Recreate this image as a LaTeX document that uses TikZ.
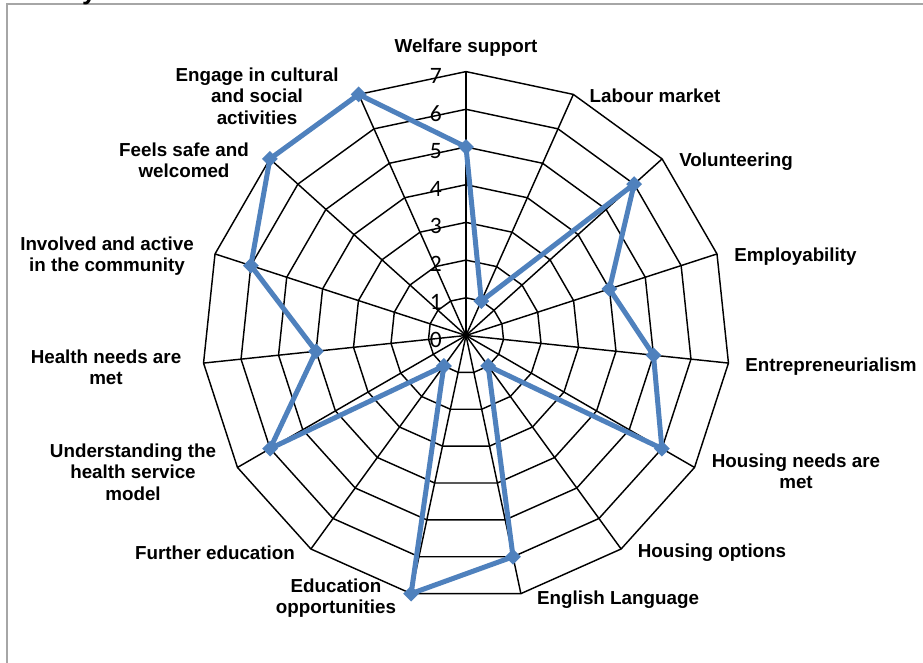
\documentclass[tikz,border=0pt]{standalone}
\usepackage{fontspec}
\setmainfont{Liberation Sans}
\newfontfamily\digitfont{Carlito}
\usetikzlibrary{shapes.geometric}
\definecolor{serblue}{RGB}{79,129,189}
\definecolor{framegray}{RGB}{166,166,166}
\begin{document}
\begin{tikzpicture}[x=1pt,y=1pt,
  web/.style={draw=black, line width=1.45pt, line join=miter},
  dataline/.style={draw=serblue, line width=5pt, line join=round},
  marker/.style={diamond, fill=serblue, minimum size=16pt, inner sep=0pt},
  lbl/.style={font=\fontsize{18.8}{21.3}\selectfont\bfseries, align=center, inner sep=0pt, text=black},
  digit/.style={font=\digitfont\fontsize{23.5}{23.5}\selectfont, anchor=east, inner sep=0pt, text=black}]
\useasboundingbox (0,0) rectangle (923,663);
\fill[white] (0,0) rectangle (923,663);
% frame
\draw[framegray, line width=2pt] (7,0) -- (7,658.5) -- (923,658.5);
% cut-off title fragment
\begin{scope}
\clip (0,0) rectangle (923,663);
\node[font=\fontsize{26}{26}\selectfont\bfseries, anchor=base west, inner sep=0pt] (ttl) at (82,663.5) {y};
\end{scope}
\begin{scope}[shift={(466,327.5)}]
\def\u{37.7}
\coordinate (O) at (0,0);
% spokes
\foreach \i in {0,...,14}{
  \coordinate (s\i) at ({90-24*\i}:{7*\u});
  \draw[web] (O) -- (s\i);
}
% rings
\foreach \k in {1,...,7}{
  \draw[web] (90:{\k*\u}) \foreach \i in {1,...,14}{ -- ({90-24*\i}:{\k*\u}) } -- cycle;
}
% axis numbers
\foreach \k in {0,...,7}{
  \node[digit] (n\k) at (-24,{\k*\u-4}) {\k};
}
% data
\foreach \v [count=\j from 0] in {5,1,6,4,5,6,1,6,7,1,6,4,6,7,7}{
  \coordinate (d\j) at ({90-24*\j}:{\v*\u});
}
\draw[dataline] (d0) -- (d1) -- (d2) -- (d3) -- (d4) -- (d5) -- (d6) -- (d7) -- (d8) -- (d9) -- (d10) -- (d11) -- (d12) -- (d13) -- (d14) -- cycle;
\foreach \j in {0,...,14}{
  \node[marker] (m\j) at (d\j) {};
}
% category labels
\node[lbl] (L0) at (0,287.5) {Welfare support};
\node[lbl] (L1) at (189,239.5) {Labour market};
\node[lbl] (L2) at (270,173.5) {Volunteering};
\node[lbl] (L3) at (329.5,78.5) {Employability};
\node[lbl] (L4) at (365,-31.5) {Entrepreneurialism};
\node[lbl] (L5) at (330,-135.5) {Housing needs are\\met};
\node[lbl] (L6) at (246,-217.5) {Housing options};
\node[lbl] (L7) at (152,-264.5) {English Language};
\node[lbl] (L8) at (-130,-262.5) {Education\\opportunities};
\node[lbl] (L9) at (-251,-217.5) {Further education};
\node[lbl] (L10) at (-333,-136.5) {Understanding the\\health service\\model};
\node[lbl] (L11) at (-360,-31.5) {Health needs are\\met};
\node[lbl] (L12) at (-359,79.5) {Involved and active\\in the community};
\node[lbl] (L13) at (-282,175.5) {Feels safe and\\welcomed};
\node[lbl] (L14) at (-209,239.5) {Engage in cultural\\and social\\activities};
\end{scope}
\end{tikzpicture}
\end{document}
